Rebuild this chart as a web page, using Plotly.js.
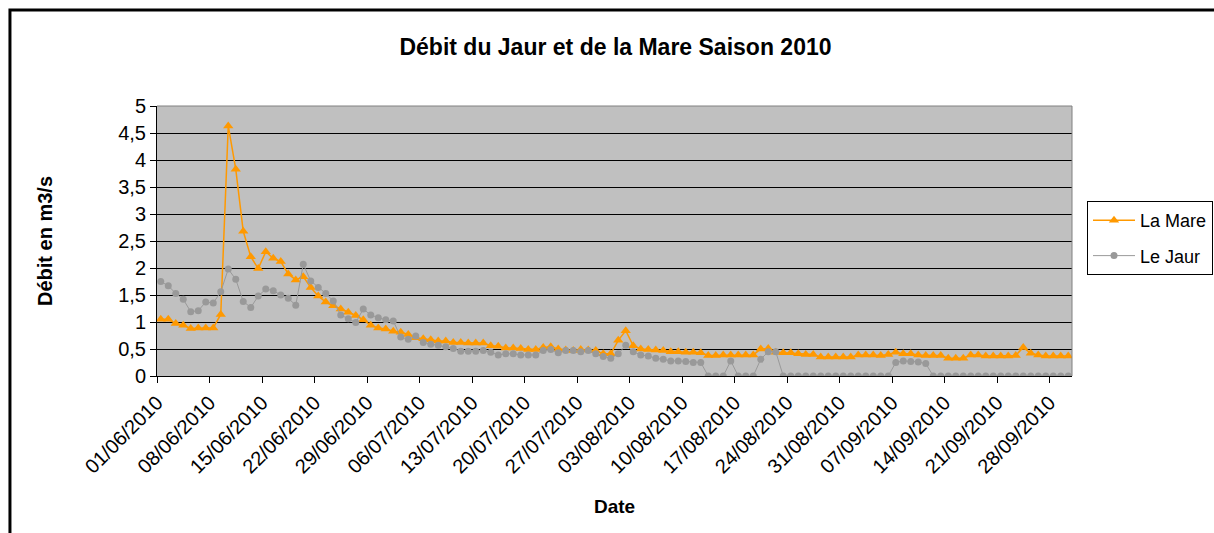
<!DOCTYPE html>
<html>
<head>
<meta charset="utf-8">
<script src="https://cdn.plot.ly/plotly-3.0.1.min.js"></script>
<style>
  body { margin: 0; background: #fff; }
  #graph1 { width: 1214px; height: 533px; }
</style>
</head>
<body>
<div id="graph1"></div>
<script>
// daily flows, 01/06/2010 -> 30/09/2010 (m3/s)
var startDay = '2010-06-01';
var nbDays = 122;

var laMare = [
    1.05, 1.05, 0.97, 0.94, 0.88, 0.89, 0.89, 0.89, 1.14, 4.63,
    3.83, 2.68, 2.21, 1.99, 2.30, 2.18, 2.12, 1.89, 1.78, 1.84,
    1.64, 1.48, 1.37, 1.30, 1.24, 1.18, 1.12, 1.04, 0.94, 0.89,
    0.87, 0.83, 0.81, 0.77, 0.71, 0.69, 0.67, 0.65, 0.65, 0.62,
    0.62, 0.61, 0.61, 0.61, 0.56, 0.55, 0.52, 0.52, 0.51, 0.49,
    0.49, 0.53, 0.54, 0.50, 0.48, 0.47, 0.49, 0.48, 0.47, 0.41,
    0.41, 0.66, 0.84, 0.56, 0.50, 0.49, 0.48, 0.47, 0.45, 0.45,
    0.44, 0.44, 0.43, 0.38, 0.38, 0.39, 0.39, 0.39, 0.39, 0.39,
    0.50, 0.51, 0.44, 0.43, 0.43, 0.41, 0.40, 0.40, 0.35, 0.35,
    0.35, 0.35, 0.35, 0.39, 0.39, 0.39, 0.38, 0.40, 0.44, 0.41,
    0.41, 0.39, 0.38, 0.38, 0.38, 0.33, 0.33, 0.33, 0.39, 0.39,
    0.37, 0.37, 0.37, 0.37, 0.38, 0.53, 0.42, 0.39, 0.37, 0.37,
    0.37, 0.37
];

var leJaur = [
    1.75, 1.67, 1.53, 1.42, 1.19, 1.21, 1.37, 1.35, 1.56, 1.98,
    1.79, 1.38, 1.27, 1.48, 1.61, 1.58, 1.50, 1.44, 1.31, 2.07,
    1.76, 1.64, 1.53, 1.39, 1.13, 1.06, 0.99, 1.24, 1.13, 1.08,
    1.04, 1.02, 0.72, 0.68, 0.74, 0.62, 0.59, 0.57, 0.54, 0.51,
    0.46, 0.46, 0.46, 0.47, 0.44, 0.39, 0.41, 0.41, 0.39, 0.39,
    0.39, 0.47, 0.49, 0.43, 0.47, 0.47, 0.45, 0.47, 0.41, 0.36,
    0.33, 0.41, 0.57, 0.45, 0.39, 0.37, 0.33, 0.31, 0.28, 0.28,
    0.27, 0.25, 0.25, 0, 0, 0, 0.28, 0, 0, 0,
    0.31, 0.45, 0.45, 0, 0, 0, 0, 0, 0, 0,
    0, 0, 0, 0, 0, 0, 0, 0, 0.25, 0.28,
    0.27, 0.26, 0.23, 0, 0, 0, 0, 0, 0, 0,
    0, 0, 0, 0, 0, 0, 0, 0, 0, 0,
    0, 0
];

// one date per day (daily mean, placed at noon like Excel's date axis)
function dayList(start, n) {
    var out = [];
    var d0 = new Date(start + 'T12:00:00Z');
    for (let i = 0; i < n; i++) {
        var d = new Date(d0.getTime() + i * 86400000);
        out.push(d.toISOString().slice(0, 10) + ' 12:00');
    }
    return out;
}
var days = dayList(startDay, nbDays);

var FONT = 'Liberation Sans, Arial, sans-serif';

var traceMare = {
    type: 'scatter',
    mode: 'lines+markers',
    name: 'La Mare',
    legendgroup: 'a',
    x: days,
    y: laMare,
    line: {color: '#FF9900', width: 1.5},
    marker: {symbol: 'triangle-up', size: 9, color: '#FF9900'},
};
var traceJaur = {
    type: 'scatter',
    mode: 'lines+markers',
    name: 'Le Jaur',
    legendgroup: 'b',
    x: days,
    y: leJaur,
    line: {color: '#999999', width: 1},
    marker: {symbol: 'circle', size: 7, color: '#999999'},
};

var layout1 = {
    width: 1214,
    height: 533,
    autosize: false,
    separators: ', ',
    paper_bgcolor: '#ffffff',
    plot_bgcolor: '#C0C0C0',
    font: {family: FONT, color: '#000', size: 20},
    margin: {l: 157, r: 142, t: 106, b: 157, pad: 0, autoexpand: false},
    title: {
        text: '<b>Débit du Jaur et de la Mare Saison 2010</b>',
        font: {family: FONT, size: 23, color: '#000'},
        xref: 'container',
        x: 0.507,
        xanchor: 'center',
        y: 0.912,
        yanchor: 'middle',
    },
    xaxis: {
        type: 'date',
        range: ['2010-06-01', '2010-10-01'],
        tick0: '2010-06-01',
        dtick: 7 * 86400000,
        tickformat: '%d/%m/%Y',
        tickangle: -45,
        ticks: 'outside',
        ticklen: 6,
        tickcolor: '#000',
        showgrid: false,
        showline: true,
        linecolor: '#000',
        linewidth: 1,
        zeroline: false,
        tickfont: {size: 20},
        title: {text: '<b>Date</b>', font: {size: 19}, standoff: 23},
    },
    yaxis: {
        range: [0, 5],
        dtick: 0.5,
        ticks: 'outside',
        ticklen: 6,
        tickcolor: '#000',
        showgrid: true,
        gridcolor: '#000000',
        gridwidth: 1,
        showline: true,
        linecolor: '#000',
        linewidth: 1,
        zeroline: false,
        tickfont: {size: 20},
        title: {text: '<b>Débit en m3/s</b>', font: {size: 20}, standoff: 60},
    },
    showlegend: true,
    legend: {
        x: 1.0164,
        xanchor: 'left',
        y: 0.374,
        yanchor: 'bottom',
        bgcolor: '#ffffff',
        bordercolor: '#000',
        borderwidth: 1,
        itemwidth: 42,
        tracegroupgap: 9,
        font: {family: FONT, size: 18, color: '#000'},
    },
    shapes: [
        // chart frame
        {type: 'rect', xref: 'paper', yref: 'paper', x0: -0.1607, x1: 1.4, y0: -1, y1: 1.3556,
         line: {color: '#000', width: 3}, fillcolor: 'rgba(0,0,0,0)'},
        // plot area border top / right
        {type: 'line', xref: 'paper', yref: 'paper', x0: 0, x1: 1, y0: 1, y1: 1,
         line: {color: '#808080', width: 1}},
        {type: 'line', xref: 'paper', yref: 'paper', x0: 1, x1: 1, y0: 0, y1: 1,
         line: {color: '#808080', width: 1}},
    ],
};

Plotly.newPlot('graph1', [traceMare, traceJaur], layout1, {displayModeBar: false, staticPlot: true});
</script>
</body>
</html>
